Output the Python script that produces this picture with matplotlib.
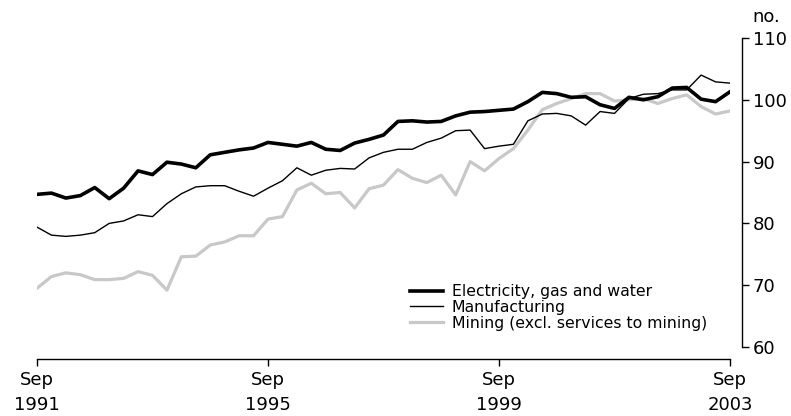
import matplotlib
matplotlib.use("Agg")
import matplotlib.pyplot as plt

plt.rcParams["font.family"] = ["DejaVu Sans"]

# quarterly, Sep 1991 .. Sep 2003
quarters = list(range(49))

electricity = [
    84.7, 84.9, 84.1, 84.5, 85.8, 84.0, 85.7, 88.5, 87.9, 89.9,
    89.6, 89.0, 91.1, 91.5, 91.9, 92.2, 93.1, 92.8, 92.5, 93.1,
    92.0, 91.8, 93.0, 93.6, 94.3, 96.5, 96.6, 96.4, 96.5, 97.4,
    98.0, 98.1, 98.3, 98.5, 99.7, 101.2, 101.0, 100.4, 100.5, 99.2,
    98.6, 100.4, 100.0, 100.5, 101.9, 102.0, 100.1, 99.7, 101.3,
]
manufacturing = [
    79.4, 78.1, 77.9, 78.1, 78.5, 80.0, 80.4, 81.4, 81.1, 83.2,
    84.8, 85.9, 86.1, 86.1, 85.2, 84.4, 85.7, 86.9, 89.0, 87.8,
    88.6, 88.9, 88.8, 90.6, 91.5, 92.0, 92.0, 93.1, 93.8, 95.0,
    95.1, 92.1, 92.5, 92.8, 96.6, 97.7, 97.8, 97.4, 95.9, 98.1,
    97.8, 100.2, 100.9, 101.0, 101.6, 101.6, 104.0, 102.9, 102.7,
]
mining = [
    69.5, 71.4, 72.0, 71.7, 70.9, 70.9, 71.1, 72.2, 71.6, 69.2,
    74.6, 74.7, 76.5, 77.0, 78.0, 78.0, 80.7, 81.1, 85.4, 86.5,
    84.8, 85.0, 82.5, 85.6, 86.2, 88.7, 87.3, 86.6, 87.8, 84.6,
    90.0, 88.5, 90.5, 92.1, 95.1, 98.4, 99.4, 100.2, 101.0, 101.0,
    99.8, 100.0, 100.2, 99.4, 100.2, 100.8, 98.9, 97.7, 98.2,
]

tick_pos = [0, 16, 32, 48]
tick_labels = ["Sep\n1991", "Sep\n1995", "Sep\n1999", "Sep\n2003"]
y_ticks = [60, 70, 80, 90, 100, 110]

fig = plt.figure(figsize=(7.91, 4.16), dpi=100)
ax = fig.add_axes([37 / 791, 1 - 347 / 416, (730 - 37) / 791, (347 - 38) / 416])

ax.plot(quarters, mining, color="#c8c8c8", lw=2.3, label="Mining (excl. services to mining)", zorder=2)
ax.plot(quarters, manufacturing, color="black", lw=1.0, label="Manufacturing", zorder=3)
ax.plot(quarters, electricity, color="black", lw=2.6, label="Electricity, gas and water", zorder=4)

ax.set_xlim(0, 48)
ax.set_ylim(60, 110)

for s in ["top", "left"]:
    ax.spines[s].set_visible(False)
ax.spines["bottom"].set_position(("outward", 8.5))
ax.spines["right"].set_position(("outward", 8.5))
ax.spines["bottom"].set_linewidth(1.0)
ax.spines["right"].set_linewidth(1.0)

ax.yaxis.tick_right()
ax.set_yticks(y_ticks)
ax.set_xticks(tick_pos)
ax.set_xticklabels(tick_labels, linespacing=1.45)
ax.tick_params(axis="both", length=5, width=1.0, labelsize=13, direction="out")
ax.tick_params(axis="y", pad=3)
ax.tick_params(axis="x", pad=4)

ax.text(752 / 791, 1 - 22 / 416, "no.", transform=fig.transFigure, fontsize=13,
        ha="left", va="baseline")

handles, labels = ax.get_legend_handles_labels()
ax.legend(handles[::-1], labels[::-1], loc="upper left",
          bbox_to_anchor=(410 / 791, 1 - 284 / 416), bbox_transform=fig.transFigure,
          frameon=False, fontsize=11.3, handlelength=2.1, handletextpad=0.57,
          labelspacing=0.06, borderaxespad=0, borderpad=0)

fig.savefig("out.png", dpi=100)
